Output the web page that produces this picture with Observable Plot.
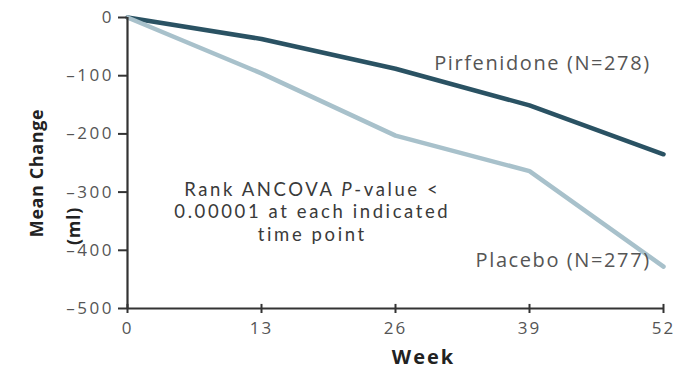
<!DOCTYPE html>
<html>
<head>
<meta charset="utf-8">
<script src="https://cdn.jsdelivr.net/npm/d3@7"></script>
<script src="https://cdn.jsdelivr.net/npm/@observablehq/plot@0.6"></script>
<style>
  html, body { margin: 0; padding: 0; background: #fff; }
  svg { font-family: "Open Sans", "Liberation Sans", sans-serif; }
</style>
</head>
<body>
<div id="chart"></div>
<script>
const weeks = [0, 13, 26, 39, 52];
const pirfenidone = [0, -37, -88, -151, -235];
const placebo = [0, -96, -203, -264, -428];
const xTicks = [0, 13, 26, 39, 52];
const yTicks = [0, -100, -200, -300, -400, -500];
const seriesNames = ["Pirfenidone (N=278)", "Placebo (N=277)"];
const seriesColors = ["#2a5263", "#a8c1cb"];
const labelPos = [{x: 50.6, y: -79}, {x: 50.6, y: -418}];
const noteLines = ["Rank ANCOVA P-value <", "0.00001 at each indicated", "time point"];
const notePos = {x: 17.8, y: -335};

const rows = [];
weeks.forEach((w, i) => {
  rows.push({week: w, value: pirfenidone[i], series: seriesNames[0]});
  rows.push({week: w, value: placebo[i], series: seriesNames[1]});
});
const labels = seriesNames.map((s, i) => ({series: s, x: labelPos[i].x, y: labelPos[i].y}));
const notes = noteLines.map((t, i) => ({text: t, line: i - 1}));

const fmt = d => d === 0 ? "0" : "\u2013" + Math.abs(d);
const lineGap = 22.5;

const plot = Plot.plot({
  width: 680,
  height: 370,
  marginLeft: 127,
  marginRight: 17,
  marginTop: 17,
  marginBottom: 62,
  style: {fontFamily: "'Open Sans', 'Liberation Sans', sans-serif", background: "#fff"},
  x: {type: "linear", domain: [0, 52]},
  y: {type: "linear", domain: [-500, 0]},
  color: {domain: seriesNames, range: seriesColors},
  marks: [
    Plot.line(rows, {x: "week", y: "value", stroke: "series", z: "series", strokeWidth: 4.5, curve: "linear"}),
    Plot.ruleX([0], {stroke: "#333", strokeWidth: 2.2}),
    Plot.ruleY([-500], {stroke: "#333", strokeWidth: 2.2}),
    Plot.axisY(yTicks, {tickSize: 9, tickFormat: fmt, fontSize: 17, color: "#555", stroke: "#333", strokeWidth: 2, tickPadding: 4.5, label: null}),
    Plot.axisX(xTicks, {tickSize: 5, fontSize: 17, color: "#555", stroke: "#333", strokeWidth: 2, tickPadding: 8, label: null}),
    Plot.ruleX(xTicks, {x: d => d, y1: -500, y2: -493, stroke: "#333", strokeWidth: 2}),
    Plot.text(labels, {x: "x", y: "y", text: "series", textAnchor: "end", fontSize: 20, fill: "#555"}),
    ...notes.map(n => Plot.text([n.text], {x: notePos.x, y: notePos.y, dy: n.line * lineGap, fontSize: 18.5, fontFamily: "Lato", fill: "#3a3a3a"})),
    Plot.text(["Mean Change"], {frameAnchor: "left", textAnchor: "middle", rotate: -90, dx: -90, dy: 10, fontSize: 18, fontWeight: "bold", fill: "#222"}),
    Plot.text(["(ml)"], {frameAnchor: "left", textAnchor: "middle", rotate: -90, dx: -53, dy: 63, fontSize: 18, fontWeight: "bold", fill: "#222"}),
    Plot.text(["Week"], {frameAnchor: "bottom", dy: 55, dx: 28, fontSize: 20, fontWeight: "bold", fill: "#222"})
  ]
});

const svg = d3.select(plot);
// widen letter spacing to match the reference's stretched lettering, italicize the "P"
svg.selectAll('g[aria-label="y-axis tick label"]').attr("letter-spacing", "2.5px");
svg.selectAll('g[aria-label="x-axis tick label"]').attr("letter-spacing", "2px");
svg.selectAll("text").each(function() {
  const el = d3.select(this);
  const txt = el.text();
  if (seriesNames.includes(txt)) el.attr("letter-spacing", "1.6px").attr("dx", 1.6);
  else if (noteLines.includes(txt)) {
    el.attr("letter-spacing", "2.6px").attr("dx", 1.3);
    if (txt === noteLines[0]) {
      const [a, b] = txt.split("P-");
      el.text(null);
      el.append("tspan").text(a);
      el.append("tspan").attr("font-style", "italic").text("P");
      el.append("tspan").text("-" + b);
    }
  }
  else if (txt === "Week") el.attr("letter-spacing", "2px");
  else if (txt === "Mean Change" || txt === "(ml)") el.attr("letter-spacing", "0.6px");
});

document.getElementById("chart").appendChild(plot);
</script>
</body>
</html>
